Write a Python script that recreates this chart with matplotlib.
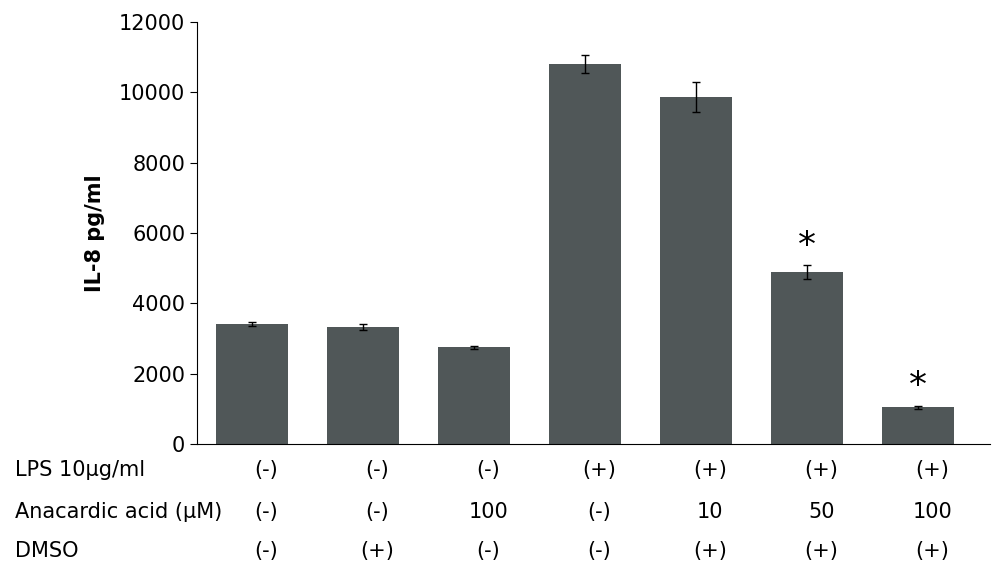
import matplotlib
matplotlib.use("Agg")
import matplotlib.pyplot as plt
import matplotlib.transforms as mtransforms

values = [3420, 3320, 2750, 10800, 9870, 4880, 1050]
errors = [50, 90, 40, 250, 430, 200, 40]
lps = ["(-)", "(-)", "(-)", "(+)", "(+)", "(+)", "(+)"]
ana = ["(-)", "(-)", "100", "(-)", "10", "50", "100"]
dmso = ["(-)", "(+)", "(-)", "(-)", "(+)", "(+)", "(+)"]
row_labels = ["LPS 10µg/ml", "Anacardic acid (µM)", "DMSO"]
stars = [False, False, False, False, False, True, True]

fig = plt.figure(figsize=(10, 5.73), dpi=100)
ax = fig.add_axes([0.197, 0.225, 0.793, 0.7365])
x = list(range(len(values)))
ax.bar(x, values, width=0.65, color="#505758", yerr=errors, capsize=3,
       error_kw=dict(elinewidth=1, ecolor="black", capthick=1))
ax.set_xlim(-0.495, 6.65)
ax.set_ylim(0, 12000)
ax.set_yticks(range(0, 12001, 2000))
ax.tick_params(axis="y", labelsize=15, direction="out", length=5)
ax.set_xticks([])
for s in ["top", "right"]:
    ax.spines[s].set_visible(False)
ax.set_ylabel("IL-8 pg/ml", fontsize=15, fontweight="bold", labelpad=10)
for i, v in enumerate(values):
    if stars[i]:
        ax.text(i, v + errors[i] + 80, "*", ha="center", va="bottom", fontsize=26)
trans = mtransforms.blended_transform_factory(ax.transData, fig.transFigure)
rows_y = [1 - 470 / 573, 1 - 512 / 573, 1 - 551 / 573]
for ry, lab, row in zip(rows_y, row_labels, [lps, ana, dmso]):
    fig.text(0.015, ry, lab, fontsize=15, va="center", ha="left")
    for i, t in enumerate(row):
        ax.text(i + 0.13, ry, t, transform=trans, fontsize=15, va="center", ha="center")
fig.savefig("out.png", dpi=100)
